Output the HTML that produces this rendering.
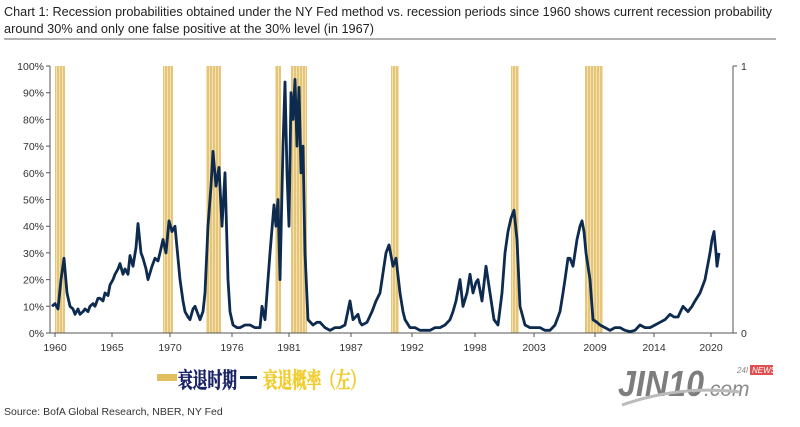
<!DOCTYPE html>
<html><head><meta charset="utf-8"><style>
body{margin:0;background:#fff;width:800px;height:422px;overflow:hidden;font-family:"Liberation Sans",sans-serif}
</style></head><body>
<svg width="800" height="422" xmlns="http://www.w3.org/2000/svg" font-family="Liberation Sans, sans-serif">
<text x="4" y="16" font-size="12.5" fill="#222" textLength="768" lengthAdjust="spacingAndGlyphs">Chart 1: Recession probabilities obtained under the NY Fed method vs. recession periods since 1960 shows current recession probability</text>
<text x="4" y="33" font-size="12.5" fill="#222" textLength="370" lengthAdjust="spacingAndGlyphs">around 30% and only one false positive at the 30% level (in 1967)</text>
<line x1="4" y1="39" x2="776" y2="39" stroke="#666" stroke-width="1"/>
<defs><pattern id="st" width="3" height="10" patternUnits="userSpaceOnUse"><rect width="3" height="10" fill="#f3e2b0"/><rect width="2" height="10" fill="#e4c579"/></pattern></defs>
<g fill="url(#st)">
<rect x="55" y="66" width="10" height="267"/>
<rect x="163" y="66" width="10" height="267"/>
<rect x="206" y="66" width="15" height="267"/>
<rect x="275" y="66" width="6" height="267"/>
<rect x="291" y="66" width="16" height="267"/>
<rect x="391" y="66" width="8" height="267"/>
<rect x="511" y="66" width="8" height="267"/>
<rect x="585" y="66" width="18" height="267"/>
</g>
<g stroke="#555" stroke-width="1" fill="none">
<line x1="50" y1="66" x2="50" y2="333"/>
<line x1="50" y1="333" x2="733" y2="333"/>
<line x1="733" y1="66" x2="733" y2="333"/>
<path d="M46 66H50M46 92.7H50M46 119.4H50M46 146.1H50M46 172.8H50M46 199.5H50M46 226.2H50M46 252.9H50M46 279.6H50M46 306.3H50M46 333H50M733 66H737M733 333H737"/>
<path d="M55 333v4M112 333v4M170 333v4M232 333v4M289 333v4M351 333v4M412 333v4M475 333v4M534 333v4M595 333v4M654 333v4M711 333v4"/>
</g>
<g font-size="10.5" fill="#333" text-anchor="end">
<text x="44" y="70">100%</text><text x="44" y="96.7">90%</text><text x="44" y="123.4">80%</text><text x="44" y="150.1">70%</text><text x="44" y="176.8">60%</text><text x="44" y="203.5">50%</text><text x="44" y="230.2">40%</text><text x="44" y="256.9">30%</text><text x="44" y="283.6">20%</text><text x="44" y="310.3">10%</text><text x="44" y="337">0%</text>
</g>
<text x="741" y="70" font-size="10.5" fill="#333">1</text>
<text x="741" y="337" font-size="10.5" fill="#333">0</text>
<g font-size="10.5" fill="#333" text-anchor="middle">
<text x="55" y="351">1960</text><text x="112" y="351">1965</text><text x="170" y="351">1970</text><text x="232" y="351">1976</text><text x="289" y="351">1981</text><text x="351" y="351">1987</text><text x="412" y="351">1992</text><text x="475" y="351">1998</text><text x="534" y="351">2003</text><text x="595" y="351">2009</text><text x="654" y="351">2014</text><text x="711" y="351">2020</text>
</g>
<polyline transform="translate(0,333) scale(1,-2.67)" vector-effect="non-scaling-stroke" fill="none" stroke="#0d2a4f" stroke-width="2.8" stroke-linejoin="round"
points="52,10 55,11 58,9 61,20 64,28 67,15 70,10 73,9 75,7 78,9 80,7 83,8 85,9 88,8 90,10 93,11 95,10 98,13 100,13 103,12 105,15 108,14 110,18 113,20 115,22 118,24 120,26 123,22 125,24 128,22 130,29 133,25 136,32 138,41 141,30 143,28 146,24 148,20 152,25 155,28 158,27 160,30 163,35 166,30 169,42 172,38 175,40 178,28 180,20 183,12 185,8 188,6 190,5 193,9 195,10 198,7 200,5 203,8 205,15 208,40 211,55 213,68 216,55 219,62 222,40 225,60 228,20 230,8 233,3 237,2 240,2 245,3 250,3 255,2 260,2 262,10 265,5 268,20 270,30 274,48 276,40 278,50 280,20 283,70 285,94 287,60 289,40 291,90 293,80 295,95 297,70 299,92 301,60 303,70 305,30 308,5 313,3 317,4 320,4 325,2 330,1 335,2 340,2 345,3 350,12 353,5 358,7 360,4 362,3 367,4 372,8 376,12 380,15 384,25 386,30 389,33 393,25 396,28 400,15 403,8 405,5 410,2 415,2 420,1 430,1 435,2 440,2 445,3 450,5 453,8 456,12 460,20 463,10 467,15 470,22 473,15 476,19 478,20 482,12 486,25 490,15 494,5 498,3 502,15 505,30 508,38 511,43 514,46 517,35 520,10 525,3 530,2 535,2 540,2 545,1 550,1 555,3 560,8 563,15 565,20 568,28 570,28 573,25 577,35 580,40 582,42 584,38 586,30 590,20 593,5 597,4 600,3 605,2 610,1 615,2 620,2 625,1 630,0.5 635,1 640,3 645,2 650,2 655,3 660,4 665,5 670,7 674,6 678,6 683,10 688,8 692,10 695,12 700,15 705,20 708,26 710,30 712,35 714,38 716,30 717,25 719,30"/>
<rect x="157" y="374" width="20" height="7" fill="#e2bf5e"/>
<text x="178" y="388" font-size="22" font-weight="bold" fill="#1a2266" stroke="#1a2266" stroke-width="0.6" font-family="Liberation Serif, Noto Serif CJK SC, serif" textLength="59" lengthAdjust="spacingAndGlyphs">衰退时期</text>
<rect x="240" y="376" width="17" height="3" fill="#0d2a4f"/>
<text x="263" y="388" font-size="22" font-weight="bold" fill="#f2cc2c" stroke="#f2cc2c" stroke-width="0.6" font-family="Liberation Serif, Noto Serif CJK SC, serif" textLength="102" lengthAdjust="spacingAndGlyphs">衰退概率（左）</text>
<text x="618" y="396" font-size="36" font-weight="bold" font-style="italic" fill="#7d7d7d" textLength="86" lengthAdjust="spacingAndGlyphs">JIN10</text>
<text x="704" y="396" font-size="21" font-style="italic" fill="#8a8a8a">.com</text>
<text x="737" y="373" font-size="8" fill="#888" font-style="italic">24I</text>
<rect x="750" y="365" width="23" height="10" fill="#e05050"/>
<text x="752" y="373" font-size="8" fill="#fff" font-style="italic">NEWS</text>
<path d="M622 405 Q680 385 740 392" stroke="#bbb" stroke-width="3" fill="none"/>
<text x="4" y="415" font-size="10.5" fill="#333">Source: BofA Global Research, NBER, NY Fed</text>
</svg>
</body></html>
